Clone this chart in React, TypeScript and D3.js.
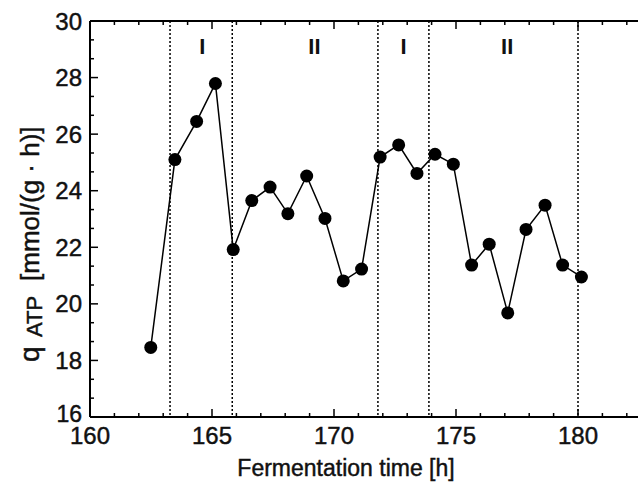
import React from "react";
import * as d3 from "d3";

const times = [162.49, 163.48, 164.37, 165.14, 165.87, 166.63, 167.38, 168.11, 168.88, 169.63, 170.38, 171.13, 171.89, 172.65, 173.4, 174.14, 174.89, 175.64, 176.36, 177.12, 177.87, 178.65, 179.37, 180.14];
const qATP = [18.46, 25.1, 26.45, 27.79, 21.92, 23.65, 24.13, 23.19, 24.52, 23.02, 20.81, 21.23, 25.19, 25.62, 24.61, 25.29, 24.94, 21.37, 22.11, 19.68, 22.63, 23.49, 21.37, 20.95];
const phaseLines = [163.28, 165.83, 171.8, 173.89, 180.0];
const phaseLabels = [
  { t: 164.6, label: "I" },
  { t: 169.2, label: "II" },
  { t: 172.85, label: "I" },
  { t: 177.1, label: "II" },
];
const xTicks = [160, 165, 170, 175, 180];
const yTicks = [16, 18, 20, 22, 24, 26, 28, 30];

const W = 638;
const H = 487;
const left = 90;
const top = 21;
const bottom = 417;
const font = "'Liberation Sans', Arial, sans-serif";
const ink = "#111";

export default function App() {
  const x = d3.scaleLinear().domain([160, 180]).range([left, 578]);
  const y = d3.scaleLinear().domain([16, 30]).range([bottom, top]);
  const xMax = x.invert(W + 2);
  const xMinor = d3.range(161, Math.floor(xMax) + 1).filter((v) => v % 5 !== 0);
  const yMinor: number[] = [];
  for (let v = 16; v < 30; v += 2) {
    yMinor.push(v + 2 / 3, v + 4 / 3);
  }
  const line = d3
    .line<number>()
    .x((_, i) => x(times[i]))
    .y((d) => y(d));

  const textStyle = { stroke: ink, strokeWidth: 0.45, fill: ink } as const;

  return (
    <svg
      width={W}
      height={H}
      style={{ position: "absolute", left: 0, top: 0, background: "#fff" }}
      fontFamily={font}
    >
      <rect x={0} y={0} width={W} height={H} fill="#fff" />
      {phaseLines.map((t, i) => (
        <line
          key={"p" + i}
          x1={x(t)}
          x2={x(t)}
          y1={top}
          y2={bottom}
          stroke="#000"
          strokeWidth={1.5}
          strokeDasharray="2,2"
        />
      ))}
      {phaseLabels.map((p, i) => (
        <text
          key={"pl" + i}
          x={x(p.t)}
          y={54}
          textAnchor="middle"
          fontSize={22}
          fontWeight="bold"
          fill={ink}
        >
          {p.label}
        </text>
      ))}
      <line x1={left} x2={W} y1={top} y2={top} stroke="#000" strokeWidth={2} />
      <line x1={left} x2={W} y1={bottom} y2={bottom} stroke="#000" strokeWidth={2} />
      <line x1={left} x2={left} y1={top} y2={bottom} stroke="#000" strokeWidth={2} />
      {xTicks.map((t) => (
        <g key={"xt" + t}>
          <line x1={x(t)} x2={x(t)} y1={bottom} y2={bottom - 8} stroke="#000" strokeWidth={1.5} />
          <line x1={x(t)} x2={x(t)} y1={top} y2={top + 8} stroke="#000" strokeWidth={1.5} />
          <text x={x(t)} y={444} textAnchor="middle" fontSize={24} {...textStyle}>
            {t}
          </text>
        </g>
      ))}
      {xMinor.map((t) => (
        <g key={"xm" + t}>
          <line x1={x(t)} x2={x(t)} y1={bottom} y2={bottom - 4} stroke="#000" strokeWidth={1.5} />
          <line x1={x(t)} x2={x(t)} y1={top} y2={top + 4} stroke="#000" strokeWidth={1.5} />
        </g>
      ))}
      {yTicks.map((v) => (
        <g key={"yt" + v}>
          <line x1={left} x2={left + 8} y1={y(v)} y2={y(v)} stroke="#000" strokeWidth={1.5} />
          <text
            x={82}
            y={y(v) + (v === 16 ? 5 : 8.5)}
            textAnchor="end"
            fontSize={v === 16 ? 23 : 24}
            {...textStyle}
          >
            {v}
          </text>
        </g>
      ))}
      {yMinor.map((v, i) => (
        <line key={"ym" + i} x1={left} x2={left + 4} y1={y(v)} y2={y(v)} stroke="#000" strokeWidth={1.5} />
      ))}
      <path d={line(qATP) || ""} fill="none" stroke="#000" strokeWidth={1.5} />
      {qATP.map((v, i) => (
        <circle key={"c" + i} cx={x(times[i])} cy={y(v)} r={6.5} fill="#000" />
      ))}
      <text x={346} y={476} textAnchor="middle" fontSize={23} {...textStyle}>
        Fermentation time [h]
      </text>
      <g transform="translate(39,0) rotate(-90)">
        <text x={-362} y={0} fontSize={28} {...textStyle}>
          q
        </text>
        <text x={-337} y={3} fontSize={22} {...textStyle}>
          ATP
        </text>
        <text x={-281} y={0} fontSize={26} {...textStyle}>
          [mmol/(g · h)]
        </text>
      </g>
    </svg>
  );
}
